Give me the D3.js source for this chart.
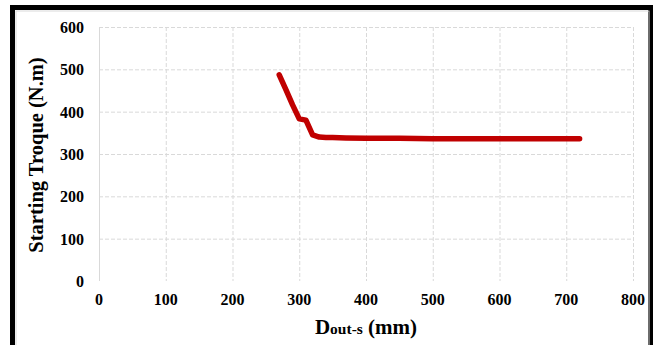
<!DOCTYPE html>
<meta charset="utf-8">
<script src="https://cdn.jsdelivr.net/npm/d3@7"></script>
<style>
  body { margin: 0; background: #fff; }
  text { font-family: "Liberation Serif", "Times New Roman", serif; font-weight: bold; }
</style>
<body>
<script>

// values
var dout = [270, 280, 290, 300, 310, 320, 330, 340, 350, 370, 400, 450, 500, 600, 720]
var torque = [487, 452, 416, 383, 380, 345, 340, 339, 339, 338, 337, 337, 336, 336, 336]
var xTicks = [0, 100, 200, 300, 400, 500, 600, 700, 800]
var yTicks = [0, 100, 200, 300, 400, 500, 600]

var width = 656
var height = 345

var x = d3.scaleLinear().domain([0, 800]).range([99, 633])
var y = d3.scaleLinear().domain([0, 600]).range([281, 27])

var svg = d3.select("body").append("svg")
            .attr("width", width)
            .attr("height", height)

// outer frame
svg.append("rect")
   .attr("x", 12.5).attr("y", 7.5)
   .attr("width", 638).attr("height", 350)
   .attr("fill", "none").attr("stroke", "#000").attr("stroke-width", 5)
svg.append("rect")
   .attr("x", 16).attr("y", 11)
   .attr("width", 633).attr("height", 340)
   .attr("fill", "none").attr("stroke", "#d9d9d9").attr("stroke-width", 1)

// grid
svg.append("g").selectAll("line")
   .data(yTicks.filter(d => d > 0))
   .join("line")
   .attr("x1", x(0)).attr("x2", x(800))
   .attr("y1", d => y(d) + 0.5).attr("y2", d => y(d) + 0.5)
   .attr("stroke", "#d9d9d9").attr("stroke-dasharray", "4,2")

svg.append("g").selectAll("line")
   .data(xTicks)
   .join("line")
   .attr("x1", d => x(d) + 0.5).attr("x2", d => x(d) + 0.5)
   .attr("y1", y(600)).attr("y2", y(0))
   .attr("stroke", "#d9d9d9")
   .attr("stroke-dasharray", d => d == 0 ? null : "4,2")

// tick labels
svg.append("g").selectAll("text")
   .data(xTicks)
   .join("text")
   .attr("x", d => x(d)).attr("y", 305)
   .attr("text-anchor", "middle")
   .style("font-size", "16px")
   .text(d => d)

svg.append("g").selectAll("text")
   .data(yTicks)
   .join("text")
   .attr("x", 84).attr("y", d => y(d) + 6)
   .attr("text-anchor", "end")
   .style("font-size", "16px")
   .text(d => d)

// data line
var line = d3.line().x((d, i) => x(dout[i])).y(d => y(d))
svg.append("path")
   .attr("d", line(torque))
   .attr("fill", "none")
   .attr("stroke", "#c00000")
   .attr("stroke-width", 5.5)
   .attr("stroke-linecap", "round")
   .attr("stroke-linejoin", "round")

// axis titles
var xt = svg.append("text")
   .attr("x", 366).attr("y", 334)
   .attr("text-anchor", "middle")
   .style("font-size", "21px")
xt.append("tspan").text("D")
xt.append("tspan").style("font-size", "15.5px").text("out-s")
xt.append("tspan").text(" (mm)")

svg.append("text")
   .attr("transform", "translate(43," + 155 + ") rotate(-90)")
   .attr("text-anchor", "middle")
   .style("font-size", "20.5px")
   .text("Starting Troque (N.m)")

</script>
</body>
